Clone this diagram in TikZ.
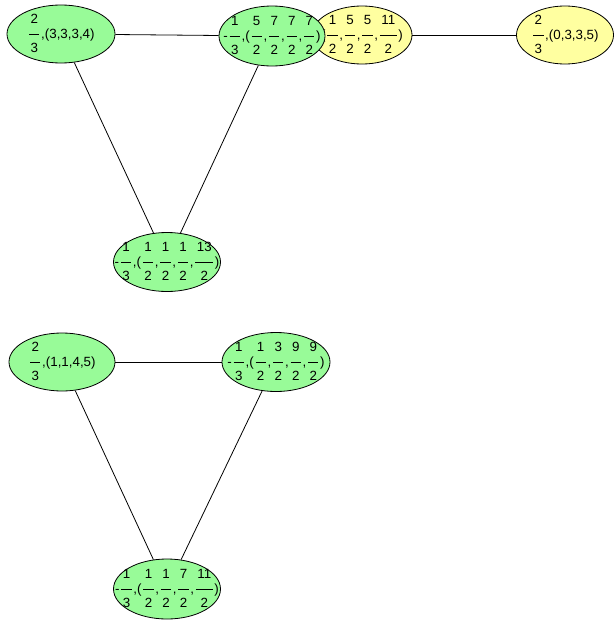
\documentclass[tikz,border=0pt]{standalone}
\usepackage{fontspec}
\setmainfont{Liberation Sans}
\usetikzlibrary{shapes.geometric}

\definecolor{nodegreen}{RGB}{152,251,152}
\definecolor{nodeyellow}{RGB}{255,255,160}

% stacked fraction with a bar
\newcommand{\fr}[2]{\hspace{1.3pt}$\vcenter{\hbox{\begin{tabular}{@{\hspace{1.1pt}}c@{\hspace{1.1pt}}}#1\\[4.2pt]\hline\rule{0pt}{13pt}#2\end{tabular}}}$\hspace{1.3pt}}
% label of fixed size, so the ellipse keeps its size
\newcommand{\elab}[1]{\smash{\makebox[0pt]{\raisebox{-3pt}{#1}}}}

\tikzset{
  esize/.style 2 args={minimum width=#1*0.75pt, minimum height=#2*0.75pt},
  vert/.style={ellipse, draw, line width=0.6pt, inner sep=0pt, font=\fontsize{10}{12}\selectfont},
  gvert/.style={vert, fill=nodegreen},
  yvert/.style={vert, fill=nodeyellow},
  edge/.style={line width=0.6pt}
}

\begin{document}
\begin{tikzpicture}[x=0.75pt,y=-0.75pt]
\useasboundingbox (0,0) rectangle (616,621);
% first graph
\node[gvert,esize={108}{58}] (a) at (61,34) {\elab{\fr{2}{3},(3,3,3,4)}};
\node[yvert,esize={100}{58}] (c) at (362,35) {\elab{(\fr{1}{2},\fr{5}{2},\fr{5}{2},\fr{11}{2})}};
\node[gvert,esize={106}{60}] (b) at (272,36) {\elab{-\fr{1}{3},(\fr{5}{2},\fr{7}{2},\fr{7}{2},\fr{7}{2})}};
\node[yvert,esize={97}{58}] (d) at (565,35) {\elab{\fr{2}{3},(0,3,3,5)}};
\node[gvert,esize={107}{59}] (e) at (167,262) {\elab{-\fr{1}{3},(\fr{1}{2},\fr{1}{2},\fr{1}{2},\fr{13}{2})}};
\draw[edge] (a) -- (b);
\draw[edge] (c) -- (d);
\draw[edge] (a) -- (e);
\draw[edge] (b) -- (e);
% second graph
\node[gvert,esize={106}{58}] (f) at (62,362) {\elab{\fr{2}{3},(1,1,4,5)}};
\node[gvert,esize={108}{59}] (g) at (276,362) {\elab{-\fr{1}{3},(\fr{1}{2},\fr{3}{2},\fr{9}{2},\fr{9}{2})}};
\node[gvert,esize={107}{60}] (h) at (167,589) {\elab{-\fr{1}{3},(\fr{1}{2},\fr{1}{2},\fr{7}{2},\fr{11}{2})}};
\draw[edge] (f) -- (g);
\draw[edge] (f) -- (h);
\draw[edge] (g) -- (h);
\end{tikzpicture}
\end{document}
